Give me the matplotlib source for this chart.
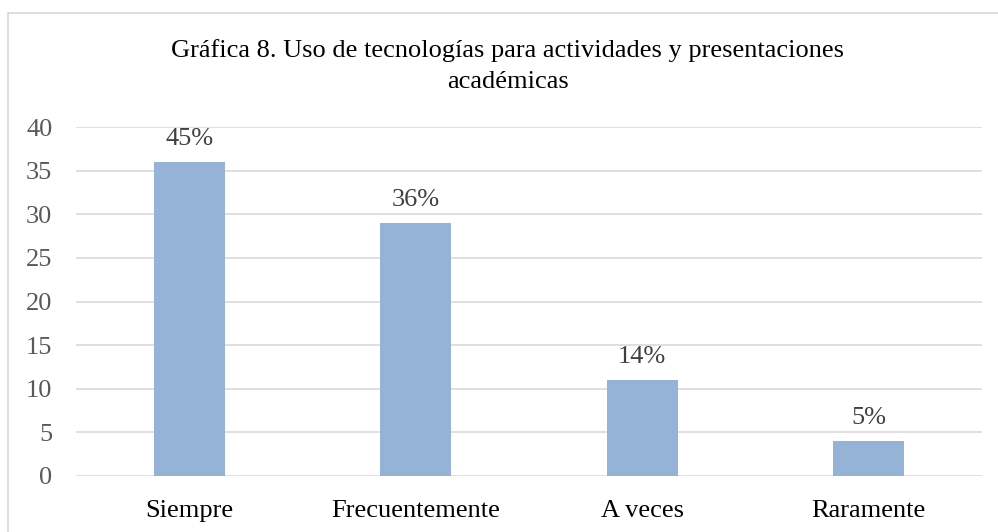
import numpy as np
import matplotlib
matplotlib.use("Agg")
import matplotlib.pyplot as plt
from matplotlib.patches import Rectangle

# datos de la grafica
categorias = ["Siempre", "Frecuentemente", "A veces", "Raramente"]
valores = [36, 29, 11, 4]
porcentajes = ["45%", "36%", "14%", "5%"]
yticks = [0, 5, 10, 15, 20, 25, 30, 35, 40]

plt.rcParams['font.family'] = ['Liberation Serif', 'DejaVu Serif']

W, H = 998, 532
fig = plt.figure(figsize=(W / 100, H / 100), dpi=100)

# marco del grafico (se sale por la derecha y abajo)
fig.patches.append(Rectangle((8 / W, -20 / H), 1.1, (H - 12.5 + 20) / H,
                             transform=fig.transFigure, fill=False,
                             edgecolor='#D9D9D9', linewidth=1.2, clip_on=False))

ax = fig.add_axes([76 / W, 56 / H, (982 - 76) / W, (476 - 127) / H])
x = np.arange(len(categorias))
ax.bar(x, valores, width=0.313, color='#95B3D7', zorder=3)

for xi, v, p in zip(x, valores, porcentajes):
    ax.annotate(p, (xi, v), xytext=(0, 8.5), textcoords='offset points',
                ha='center', va='bottom', fontsize=19, color='#404040')

ax.set_xlim(-0.5, 3.5)
ax.set_ylim(0, 40)
ax.set_yticks(yticks)
ax.set_xticks(x)
ax.set_xticklabels(categorias, fontsize=19, color='black')
ax.tick_params(axis='y', labelsize=19, labelcolor='#595959', length=0, pad=17)
ax.tick_params(axis='x', length=0, pad=17)
ax.yaxis.grid(True, color='#D9D9D9', linewidth=1.2, zorder=0)
for s in ax.spines.values():
    s.set_visible(False)
ax.set_axisbelow(True)

fig.text(508 / W, 1 - 66 / H, "Gráfica 8. Uso de tecnologías para actividades y presentaciones\nacadémicas",
         ha='center', va='center', fontsize=19, color='black', linespacing=1.5)

fig.savefig("out.png", dpi=100)
